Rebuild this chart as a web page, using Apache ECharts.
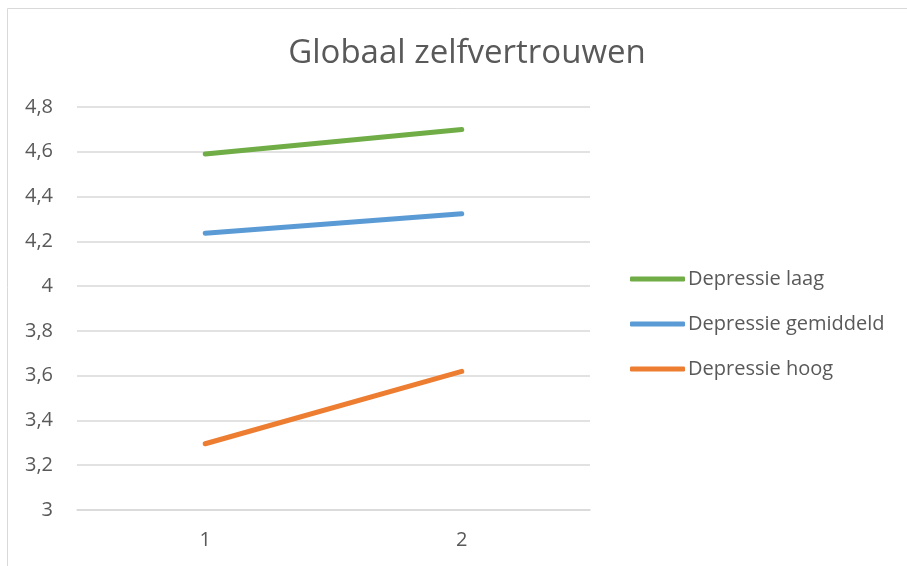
<!DOCTYPE html>
<html>
<head>
<meta charset="utf-8">
<script src="https://cdn.jsdelivr.net/npm/echarts@6/dist/echarts.min.js"></script>
<style>
html,body{margin:0;padding:0;background:#fff;}
#chart{width:907px;height:566px;}
</style>
</head>
<body>
<div id="chart"></div>
<script>
var categories = ['1', '2'];
var seriesNames = ['Depressie laag', 'Depressie gemiddeld', 'Depressie hoog'];
var laag = [4.59, 4.70];
var gemiddeld = [4.236, 4.323];
var hoog = [3.296, 3.619];
var yMin = 3, yMax = 4.8, yStep = 0.2;
var colors = ['#70ad47', '#5b9bd5', '#ed7d31'];

var chart = echarts.init(document.getElementById('chart'));
var font = 'Open Sans';
function mk(name, data, color) {
  return {
    name: name, type: 'line', data: data, symbol: 'none',
    lineStyle: { width: 5, color: color, cap: 'round' },
    itemStyle: { color: color },
    animation: false
  };
}
chart.setOption({
  animation: false,
  graphic: [{
    type: 'rect', silent: true,
    shape: { x: 7.5, y: 8.5, width: 1000, height: 1000 },
    style: { fill: 'none', stroke: '#d9d9d9', lineWidth: 1 }
  }],
  title: {
    text: 'Globaal zelfvertrouwen', left: 462, top: 32, textAlign: 'center',
    textStyle: { fontFamily: font, fontSize: 33, fontWeight: 'normal', color: '#595959' }
  },
  legend: {
    orient: 'vertical', left: 625, top: 264, itemWidth: 55, itemHeight: 5, itemGap: 25,
    icon: 'roundRect',
    data: seriesNames,
    textStyle: { fontFamily: font, fontSize: 20, color: '#595959', padding: [0, 0, 0, -2] }
  },
  grid: { left: 77, right: 317, top: 107, bottom: 56 },
  xAxis: {
    type: 'category', data: categories, boundaryGap: true,
    axisLine: { show: true, lineStyle: { color: '#d9d9d9', width: 1.5 } },
    axisTick: { show: false },
    axisLabel: { margin: 20, fontFamily: font, fontSize: 20, color: '#595959' }
  },
  yAxis: {
    type: 'value', min: yMin, max: yMax, interval: yStep,
    axisLine: { show: false }, axisTick: { show: false },
    splitLine: { lineStyle: { color: '#d9d9d9', width: 1.5 } },
    axisLabel: {
      margin: 24, fontFamily: font, fontSize: 20, color: '#595959',
      formatter: function (v) { return String(parseFloat(v.toFixed(1))).replace('.', ','); }
    }
  },
  series: [mk(seriesNames[0], laag, colors[0]), mk(seriesNames[1], gemiddeld, colors[1]), mk(seriesNames[2], hoog, colors[2])]
});
</script>
</body>
</html>
